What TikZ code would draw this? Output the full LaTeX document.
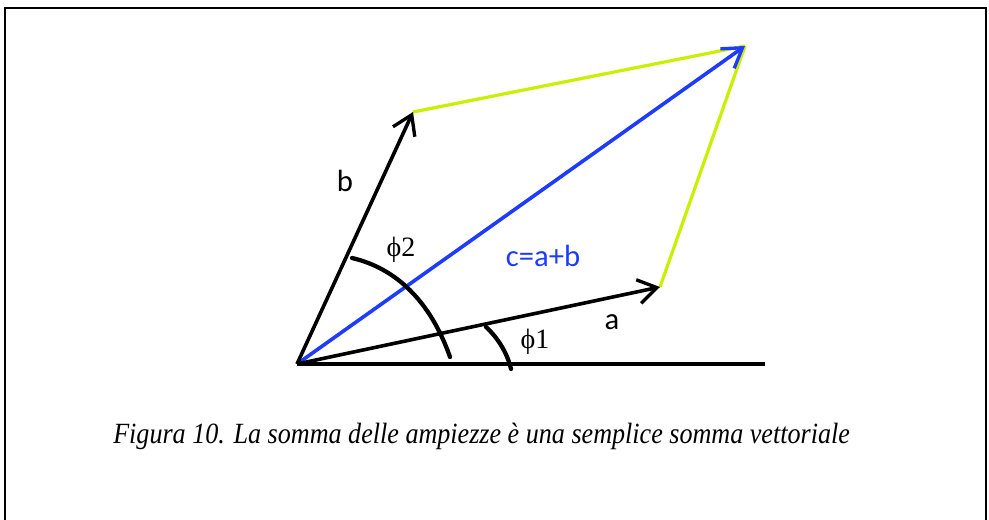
\documentclass[tikz,border=0pt]{standalone}
\usepackage{fontspec}
\setmainfont{Liberation Serif}
\newfontfamily\labfont{Carlito}
\usetikzlibrary{arrows.meta}
\definecolor{vecblue}{RGB}{30,60,255}
\definecolor{ygreen}{RGB}{200,240,0}
\tikzset{
  vec/.style={line width=2.7pt, -{Straight Barb[length=14pt,width=18pt,line width=2.5pt]}},
  side/.style={line width=2.4pt, ygreen},
  anglearc/.style={line width=3.2pt, line cap=round},
  lab/.style={font=\labfont\fontsize{23}{26}\selectfont, inner sep=0pt},
  philab/.style={font=\fontsize{21}{25}\selectfont, inner sep=0pt},
}
\begin{document}
\begin{tikzpicture}[x=0.75pt,y=-0.75pt]
\useasboundingbox (0,0) rectangle (989,520);
% frame
\draw[line width=1.5pt] (5,525) -- (5,8) -- (986,8) -- (986,525);
% points
\coordinate (O) at (297,364);
\coordinate (A) at (660,287);
\coordinate (B) at (413,112);
\coordinate (C) at (745,46);
\coordinate (X) at (765,364);
% axis
\draw[line width=2.6pt] (O) -- (X);
% parallelogram sides
\draw[side] (B) -- (C);
\draw[side] (A) -- (C);
% vectors
\draw[vec, vecblue] (O) -- (C);
\draw[vec] (O) -- (A);
\draw[vec] (O) -- (B);
% angle arcs
\draw[anglearc] (352,258) .. controls (395,268) and (430,300) .. (450,357);
\draw[anglearc] (486,327) .. controls (497,337) and (507,352) .. (511,369);
% labels
\node[lab] (lb) at (345,181) {b};
\node[lab] (la) at (612,322) {a};
\node[lab, vecblue] (lc) at (543,256) {c=a+b};
\node[philab] (p1) at (535,342) {ϕ1};
\node[philab] (p2) at (401,250) {ϕ2};
% caption
\node[anchor=west, inner sep=0pt] (cap) at (113,436) {\scalebox{0.89}[1]{\itshape\fontsize{22}{26}\selectfont Figura 10. La somma delle ampiezze è una semplice somma vettoriale}};
\end{tikzpicture}
\end{document}
